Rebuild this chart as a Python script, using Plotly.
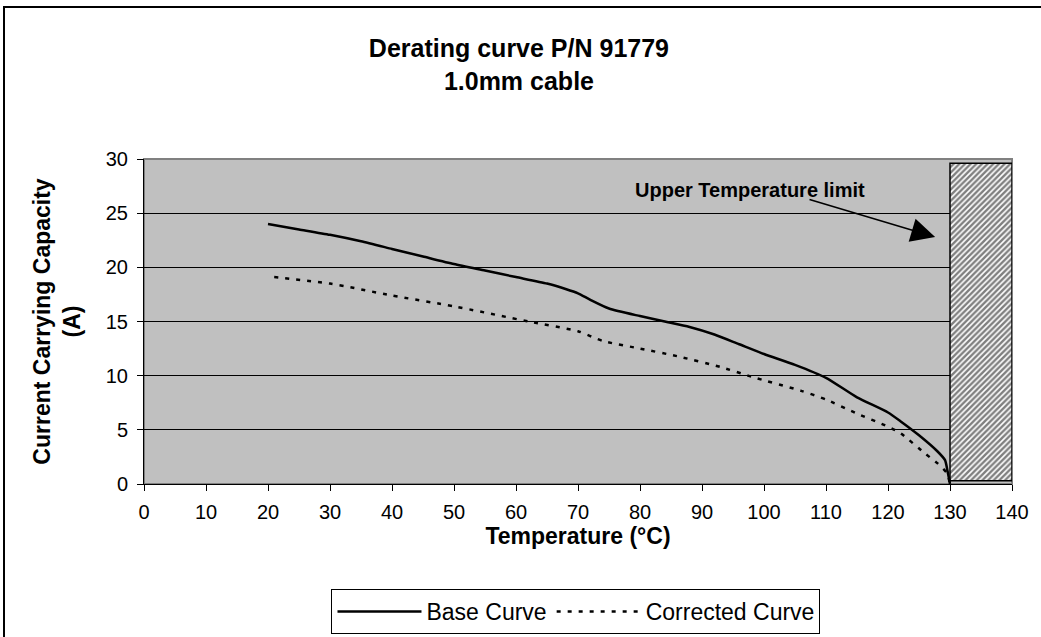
import plotly.graph_objects as go

# Data
base_temp = [20, 25, 30, 35, 40, 45, 50, 55, 60, 65, 68, 70, 72, 75, 80, 84, 88, 92, 96, 100, 105, 110, 115, 120, 122, 125, 128, 129.2, 129.6, 130]
base_curr = [24.0, 23.5, 23.0, 22.4, 21.7, 21.0, 20.3, 19.7, 19.1, 18.5, 18.0, 17.6, 17.0, 16.2, 15.5, 15.0, 14.5, 13.8, 12.9, 12.0, 11.0, 9.8, 8.0, 6.6, 5.8, 4.5, 3.0, 2.2, 1.2, 0.0]
corr_temp = [21, 30, 40, 50, 62, 70, 74, 80, 86, 93, 98, 106, 110, 115, 120, 122, 126, 128, 129.5, 130]
corr_curr = [19.1, 18.5, 17.4, 16.4, 15.0, 14.1, 13.2, 12.5, 11.8, 10.8, 9.9, 8.6, 7.8, 6.5, 5.3, 4.7, 2.8, 1.9, 1.0, 0.0]
limit_x = [135]
limit_base = [0.3]
limit_height = [29.3]
limit_width = [10]
x_ticks = [0, 10, 20, 30, 40, 50, 60, 70, 80, 90, 100, 110, 120, 130, 140]
y_ticks = [0, 5, 10, 15, 20, 25, 30]

FONT = "Liberation Sans, Arial, sans-serif"

fig = go.Figure()
fig.add_trace(go.Bar(
    x=limit_x, y=limit_height, base=limit_base, width=limit_width,
    marker=dict(color="white", line=dict(color="black", width=1.5),
                pattern=dict(shape="/", fgcolor="black", bgcolor="white", size=4, solidity=0.6)),
    showlegend=False, hoverinfo="skip"))
fig.add_trace(go.Scatter(x=base_temp, y=base_curr, mode="lines", name="Base Curve",
                         line=dict(color="black", width=2.5, shape="spline", smoothing=0.6)))
fig.add_trace(go.Scatter(x=corr_temp, y=corr_curr, mode="lines", name="Corrected Curve",
                         line=dict(color="black", width=2.5, dash="4px,7px", shape="spline", smoothing=0.6)))

L, R, T, B = 144, 29, 159, 153
W, H = 1041, 637
pw, ph = W - L - R, H - T - B

fig.update_layout(
    width=W, height=H,
    margin=dict(l=L, r=R, t=T, b=B),
    paper_bgcolor="white", plot_bgcolor="#C0C0C0",
    font=dict(family=FONT, color="black", size=20),
    title=dict(text="<b>Derating curve P/N 91779<br>1.0mm cable</b>", x=0.4985, xanchor="center",
               y=1 - 57 / H, yanchor="middle", font=dict(size=25, family=FONT)),
    xaxis=dict(range=[0, 140], tickvals=x_ticks, ticks="outside", ticklen=6, tickcolor="black",
               showgrid=False, zeroline=False, showline=True, linecolor="black", linewidth=1,
               tickfont=dict(size=20), ticklabelstandoff=4, automargin=False,
               title=dict(text="<b>Temperature (°C)</b>", font=dict(size=23), standoff=0)),
    yaxis=dict(range=[0, 30], tickvals=y_ticks, ticks="outside", ticklen=6, tickcolor="black",
               showgrid=True, gridcolor="black", gridwidth=1, zeroline=False,
               showline=True, linecolor="black", linewidth=1, tickfont=dict(size=20),
               ticklabelstandoff=5, automargin=False,
               title=dict(text="<b>Current Carrying Capacity<br>(A)</b>", font=dict(size=23), standoff=18)),
    barmode="overlay",
    showlegend=True,
    legend=dict(orientation="h", x=0.5533, xref="container", xanchor="center",
                y=1 - 634 / H, yref="container", yanchor="bottom",
                bordercolor="black", borderwidth=1, bgcolor="white", itemwidth=84,
                font=dict(size=23), tracegroupgap=0),
    shapes=[
        dict(type="rect", xref="paper", yref="paper", x0=0, x1=1, y0=0, y1=1,
             line=dict(color="#808080", width=2), layer="below"),
        dict(type="rect", xref="paper", yref="paper",
             x0=(4 - L) / pw, x1=(1100 - L) / pw, y0=(484 - 700) / ph, y1=1 + (T - 7) / ph,
             line=dict(color="black", width=2)),
    ],
    annotations=[
        dict(x=127.6, y=22.8, ax=107.1, ay=26.3, xref="x", yref="y", axref="x", ayref="y",
             text="", showarrow=True, arrowhead=2, arrowsize=3, arrowwidth=1.6, arrowcolor="black"),
        dict(x=97.7, y=27.1, xref="x", yref="y", text="<b>Upper Temperature limit</b>",
             showarrow=False, font=dict(size=20, family=FONT)),
    ],
)

fig.write_html("out.html", config={"displayModeBar": False},
               post_script="document.body.style.margin='0';document.body.style.overflow='hidden';")
